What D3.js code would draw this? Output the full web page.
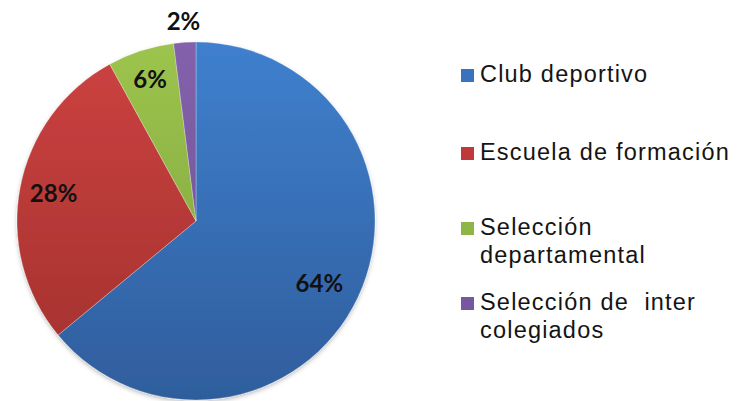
<!DOCTYPE html>
<html><head><meta charset="utf-8">
<script src="https://cdn.jsdelivr.net/npm/d3@7"></script>
<style>html,body{margin:0;padding:0;background:#fff;}svg{display:block;} .lg text{white-space:pre;}</style>
</head><body>
<svg id="chart" width="737" height="401"></svg>
<script>
const categories = ["Club deportivo", "Escuela de formación", "Selección departamental", "Selección de  inter colegiados"];
const legendLines = [["Club deportivo"], ["Escuela de formación"], ["Selección", "departamental"], ["Selección de  inter", "colegiados"]];
const values = [64, 28, 6, 2];
const valueLabels = ["64%", "28%", "6%", "2%"];
const colorsTop = ["#3f80ce", "#cd4241", "#9dc44d", "#8362ab"];
const colorsBottom = ["#2f5d9c", "#a0302d", "#7a9f3a", "#6a4e8f"];
const legendColors = ["#3a73bd", "#c0393a", "#8db646", "#7658a0"];

const svg = d3.select("#chart");
const cx = 196, cy = 221, r = 179;
const defs = svg.append("defs");
categories.forEach((c, i) => {
  const g = defs.append("linearGradient").attr("id", "g" + i)
    .attr("gradientUnits", "userSpaceOnUse")
    .attr("x1", 0).attr("y1", -r).attr("x2", 0).attr("y2", r);
  g.append("stop").attr("offset", "0%").attr("stop-color", colorsTop[i]);
  g.append("stop").attr("offset", "100%").attr("stop-color", colorsBottom[i]);
});
const f = defs.append("filter").attr("id", "sh").attr("x", "-10%").attr("y", "-10%").attr("width", "120%").attr("height", "120%");
f.append("feDropShadow").attr("dx", 0).attr("dy", 2).attr("stdDeviation", 2).attr("flood-color", "#000").attr("flood-opacity", 0.25);

const pie = d3.pie().sort(null).value(d => d)(values);
const arc = d3.arc().innerRadius(0).outerRadius(r);
const gPie = svg.append("g").attr("transform", `translate(${cx},${cy})`).attr("filter", "url(#sh)");
gPie.selectAll("path").data(pie).join("path")
  .attr("d", arc)
  .attr("fill", (d, i) => `url(#g${i})`)
  .attr("stroke", "rgba(255,255,255,0.35)")
  .attr("stroke-width", 0.8);

const labelR = [0.78, 0.81, 0.83, 1.12];
const gLab = svg.append("g").attr("transform", `translate(${cx},${cy})`);
const lab = (d, i) => d3.arc().innerRadius(r * labelR[i]).outerRadius(r * labelR[i]).centroid(d);
gLab.selectAll("text").data(pie).join("text")
  .attr("x", (d, i) => lab(d, i)[0] - (i === 0 ? 3 : 0))
  .attr("y", (d, i) => lab(d, i)[1] + (i === 0 ? 3 : 0))
  .attr("dy", "0.36em")
  .attr("text-anchor", "middle")
  .attr("font-family", "Lato, 'Open Sans', sans-serif")
  .attr("font-weight", "bold")
  .attr("font-size", 24)
  .attr("fill", "#111")
  .text((d, i) => valueLabels[i]);

const legendY = [82, 160, 235, 310];
const lg = svg.append("g").attr("class", "lg");
categories.forEach((c, i) => {
  lg.append("rect").attr("x", 461).attr("y", legendY[i] - 13).attr("width", 13).attr("height", 13)
    .attr("fill", legendColors[i]);
  const t = lg.append("text").attr("x", 480).attr("y", legendY[i])
    .attr("font-family", "'Liberation Sans', Arial, sans-serif")
    .attr("font-size", 23.5).attr("letter-spacing", 1.2).attr("fill", "#141414");
  legendLines[i].forEach((ln, j) => {
    t.append("tspan").attr("x", 480).attr("dy", j === 0 ? 0 : 28).text(ln);
  });
});
</script>
</body></html>
